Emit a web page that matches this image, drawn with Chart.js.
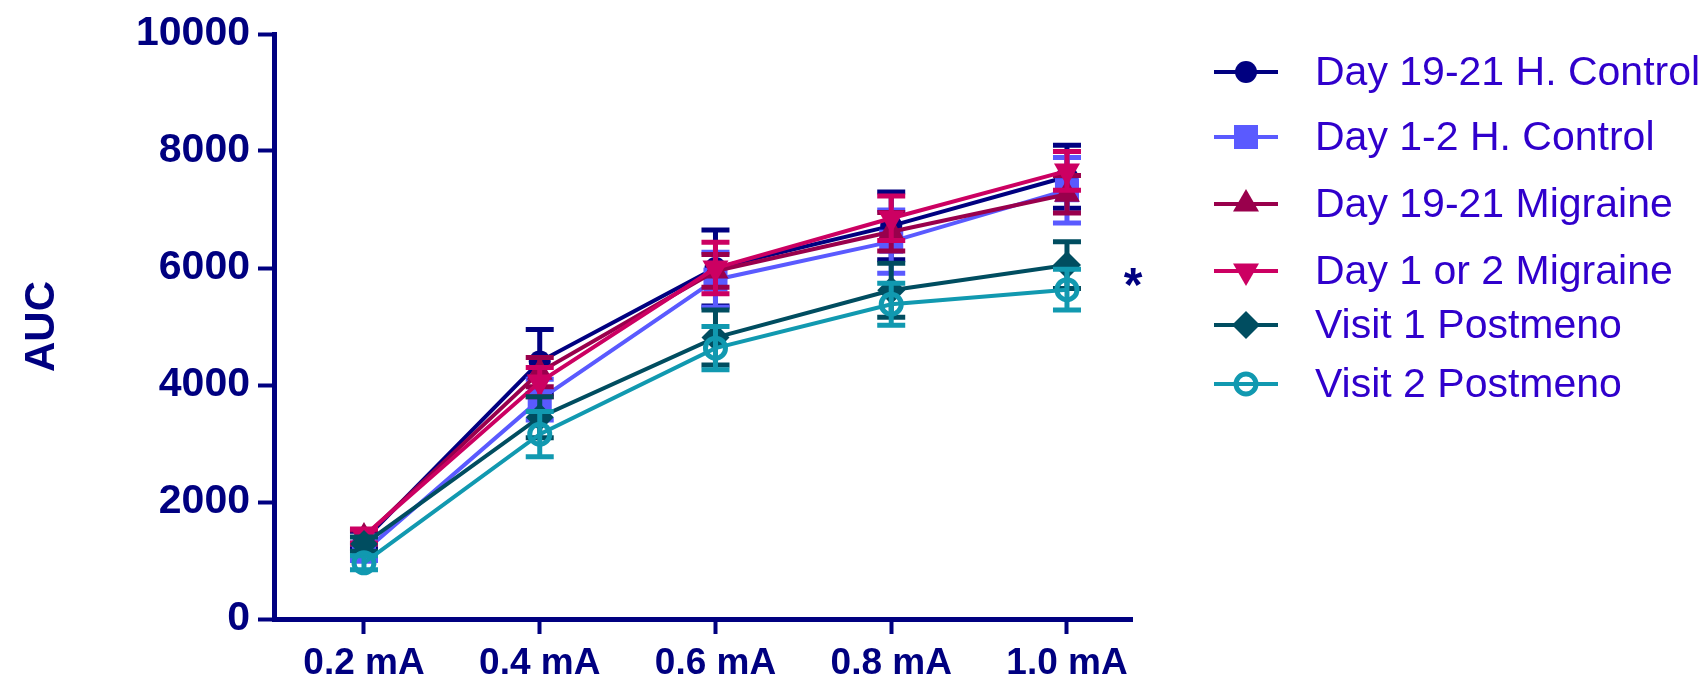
<!DOCTYPE html>
<html>
<head>
<meta charset="utf-8">
<script src="https://cdn.jsdelivr.net/npm/chart.js@4.4.1/dist/chart.umd.min.js"></script>
<style>
  html, body { margin: 0; padding: 0; background: #fff; overflow: hidden; }
  #wrap { position: relative; width: 1707px; height: 681px; }
</style>
</head>
<body>
<div id="wrap"><canvas id="auc" width="1707" height="681"></canvas></div>
<script>
// stimulus intensities (x) and their labels
const doses = [0.2, 0.4, 0.6, 0.8, 1.0];
const doseLabels = ["0.2 mA", "0.4 mA", "0.6 mA", "0.8 mA", "1.0 mA"];
const yTicks = [0, 2000, 4000, 6000, 8000, 10000];

const seriesNames = [
    "Day 19-21 H. Control",
    "Day 1-2 H. Control",
    "Day 19-21 Migraine",
    "Day 1 or 2 Migraine",
    "Visit 1 Postmeno",
    "Visit 2 Postmeno"
];

// mean AUC per intensity
const ctrlLuteal   = [1350, 4400, 6000, 6720, 7560];
const ctrlMenses   = [1150, 3750, 5800, 6450, 7330];
const migLuteal    = [1400, 4220, 5950, 6620, 7260];
const migMenses    = [1420, 4050, 6000, 6850, 7660];
const postVisit1   = [1280, 3450, 4810, 5620, 6050];
const postVisit2   = [960, 3160, 4630, 5380, 5630];

// error bar half-lengths (SEM)
const ctrlLutealErr = [150, 550, 650, 580, 540];
const ctrlMensesErr = [150, 350, 470, 540, 560];
const migLutealErr  = [120, 250, 280, 330, 320];
const migMensesErr  = [120, 250, 440, 380, 330];
const postVisit1Err = [120, 350, 470, 460, 400];
const postVisit2Err = [120, 385, 370, 360, 350];

const navy = "#000080";
const FONT = "'Liberation Sans', Arial, sans-serif";

const styles = [
    { color: "#000080", pointStyle: "circle",   radius: 11, rotation: 0,   fill: "#000080", bw: 0 },
    { color: "#5a5aff", pointStyle: "rect",     radius: 17, rotation: 0,   fill: "#5a5aff", bw: 0 },
    { color: "#99004c", pointStyle: "triangle", radius: 15, rotation: 0,   fill: "#99004c", bw: 0 },
    { color: "#cc0062", pointStyle: "triangle", radius: 15, rotation: 180, fill: "#cc0062", bw: 0 },
    { color: "#004d60", pointStyle: "rectRot",  radius: 14, rotation: 0,   fill: "#004d60", bw: 0 },
    { color: "#1199b0", pointStyle: "circle",   radius: 10, rotation: 0,   fill: "rgba(0,0,0,0)", bw: 5 }
];

const values = [ctrlLuteal, ctrlMenses, migLuteal, migMenses, postVisit1, postVisit2];
const errors = [ctrlLutealErr, ctrlMensesErr, migLutealErr, migMensesErr, postVisit1Err, postVisit2Err];

const datasets = seriesNames.map((name, i) => ({
    label: name,
    data: doses.map((d, j) => ({ x: d, y: values[i][j] })),
    errors: errors[i],
    borderColor: styles[i].color,
    backgroundColor: styles[i].color,
    borderWidth: 4,
    tension: 0,
    pointStyle: styles[i].pointStyle,
    pointRadius: styles[i].radius,
    pointRotation: styles[i].rotation,
    pointBackgroundColor: styles[i].fill,
    pointBorderColor: styles[i].color,
    pointBorderWidth: styles[i].bw,
    order: seriesNames.length - i,
    clip: false
}));

// error bars drawn just under each dataset's own line/markers
const errorBars = {
    id: "errorBars",
    beforeDatasetDraw(chart, args) {
        const ds = chart.data.datasets[args.index];
        const yScale = chart.scales.y;
        const ctx = chart.ctx;
        ctx.save();
        ctx.strokeStyle = ds.borderColor;
        ctx.lineWidth = 5;
        args.meta.data.forEach((pt, i) => {
            const v = ds.data[i].y, e = ds.errors[i];
            const top = yScale.getPixelForValue(v + e);
            const bot = yScale.getPixelForValue(v - e);
            ctx.beginPath();
            ctx.moveTo(pt.x, top); ctx.lineTo(pt.x, bot);
            ctx.moveTo(pt.x - 14, top); ctx.lineTo(pt.x + 14, top);
            ctx.moveTo(pt.x - 14, bot); ctx.lineTo(pt.x + 14, bot);
            ctx.stroke();
        });
        ctx.restore();
    }
};

// GraphPad-style legend (line + marker + label) and the significance star
const legendRows = [72, 137, 204, 271, 325, 384];
const sideLegend = {
    id: "sideLegend",
    afterDraw(chart) {
        const ctx = chart.ctx;
        ctx.save();
        chart.data.datasets.forEach((ds, i) => {
            const y = legendRows[i];
            ctx.strokeStyle = ds.borderColor;
            ctx.lineWidth = 4;
            ctx.beginPath();
            ctx.moveTo(1214, y); ctx.lineTo(1278, y);
            ctx.stroke();
            ctx.fillStyle = styles[i].fill;
            ctx.strokeStyle = ds.borderColor;
            ctx.lineWidth = styles[i].bw;
            Chart.helpers.drawPoint(ctx, {
                pointStyle: styles[i].pointStyle,
                radius: styles[i].radius,
                rotation: styles[i].rotation,
                borderWidth: styles[i].bw
            }, 1246, y);
            ctx.fillStyle = "#3000cc";
            ctx.font = "41px " + FONT;
            ctx.textAlign = "left";
            ctx.textBaseline = "middle";
            ctx.fillText(ds.label, 1315, y + 2);
        });

        const xs = chart.scales.x, ys = chart.scales.y;
        ctx.fillStyle = navy;
        ctx.font = "bold 48px " + FONT;
        ctx.textAlign = "center";
        ctx.textBaseline = "alphabetic";
        ctx.fillText("*", xs.getPixelForValue(1.0) + 66, ys.getPixelForValue(5880) + 26);
        ctx.restore();
    }
};

new Chart(document.getElementById("auc"), {
    type: "line",
    data: { datasets: datasets },
    options: {
        responsive: false,
        animation: false,
        events: [],
        layout: { padding: { top: 34, right: 575, bottom: 0, left: 0 } },
        plugins: { legend: { display: false }, tooltip: { enabled: false } },
        scales: {
            x: {
                type: "linear",
                min: 0.0976,
                max: 1.074,
                afterBuildTicks: s => { s.ticks = doses.map(v => ({ value: v })); },
                afterFit: s => { s.height = 62; },
                ticks: {
                    autoSkip: false,
                    maxRotation: 0,
                    padding: 8,
                    color: navy,
                    font: { family: FONT, size: 37, weight: "bold" },
                    callback: v => doseLabels[doses.indexOf(v)]
                },
                grid: { drawOnChartArea: false, drawTicks: true, tickLength: 15, tickWidth: 4, color: navy },
                border: { display: true, color: navy, width: 5 }
            },
            y: {
                min: 0,
                max: 10000,
                afterBuildTicks: s => { s.ticks = yTicks.map(v => ({ value: v })); },
                afterFit: s => { s.width = 274; },
                ticks: {
                    padding: 8,
                    color: navy,
                    font: { family: FONT, size: 41, weight: "bold" },
                    callback: v => String(v)
                },
                grid: { drawOnChartArea: false, drawTicks: true, tickLength: 16, tickWidth: 4, color: navy },
                border: { display: true, color: navy, width: 5 },
                title: {
                    display: true,
                    text: "AUC",
                    color: navy,
                    font: { family: FONT, size: 42, weight: "bold" },
                    padding: { top: 17, bottom: 0 }
                }
            }
        }
    },
    plugins: [errorBars, sideLegend]
});
</script>
</body>
</html>
